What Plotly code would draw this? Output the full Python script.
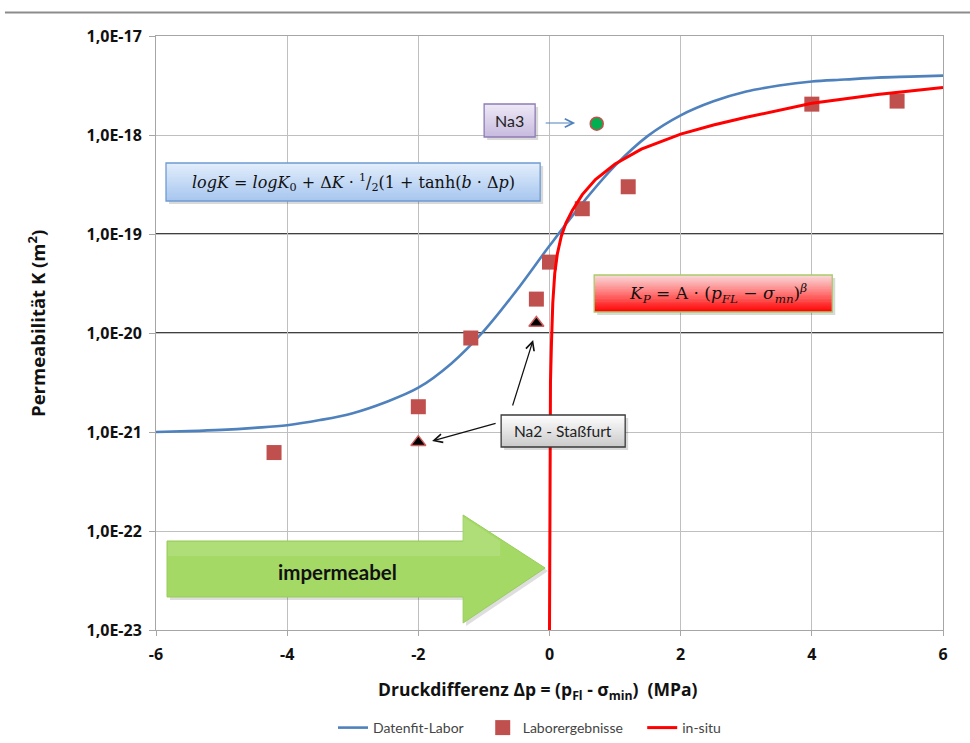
import plotly.graph_objects as go
import numpy as np

# ---------------- data ----------------
tick_vals = [1e-23, 1e-22, 1e-21, 1e-20, 1e-19, 1e-18, 1e-17]
tick_text = ["1,0E-23", "1,0E-22", "1,0E-21", "1,0E-20", "1,0E-19", "1,0E-18", "1,0E-17"]
x_ticks = [-6, -4, -2, 0, 2, 4, 6]

fit_x = [-6, -5.5, -5, -4.5, -4, -3.5, -3, -2.5, -2, -1.5, -1, -0.5, 0, 0.5, 1, 1.5,
         2, 2.5, 3, 3.5, 4, 4.5, 5, 5.5, 6]
fit_K = [1.0e-21, 1.02e-21, 1.05e-21, 1.10e-21, 1.17e-21, 1.32e-21, 1.55e-21, 2.0e-21,
         2.8e-21, 4.9e-21, 1.05e-20, 2.7e-20, 7.6e-20, 2.04e-19, 4.9e-19, 9.8e-19,
         1.58e-18, 2.19e-18, 2.75e-18, 3.16e-18, 3.47e-18, 3.63e-18, 3.80e-18, 3.89e-18,
         3.98e-18]

insitu_x = [0, 0.003, 0.008, 0.015, 0.03, 0.05, 0.08, 0.12, 0.18, 0.25, 0.35, 0.5, 0.7,
            1.0, 1.4, 2.0, 2.5, 3.0, 4.0, 5.0, 6.0]
insitu_K = [1e-23, 1e-22, 1e-21, 3.2e-21, 7.9e-21, 2.0e-20, 4.0e-20, 6.3e-20, 9.5e-20,
            1.29e-19, 1.74e-19, 2.5e-19, 3.55e-19, 5.1e-19, 7.2e-19, 1.02e-18, 1.26e-18,
            1.51e-18, 2.09e-18, 2.57e-18, 3.02e-18]

lab_x = [-4.2, -2.0, -1.2, -0.2, 0.0, 0.5, 1.2, 4.0, 5.3]
lab_K = [6.2e-22, 1.8e-21, 8.9e-21, 2.2e-20, 5.2e-20, 1.8e-19, 3.0e-19, 2.05e-18, 2.2e-18]

na2_x = [-2.0, -0.2]
na2_K = [7.9e-22, 1.26e-20]

na3_x = [0.72]
na3_K = [1.3e-18]

# ---------------- layout geometry (pixels) ----------------
W, H = 970, 743
L, R, T, B = 156, 942.7, 36, 630
NB = "\u00a0"


def px(x):
    return (x - L) / (R - L)


def py(y):
    return (B - y) / (B - T)


def mix(c1, c2, t):
    a = [int(c1[i:i + 2], 16) for i in (1, 3, 5)]
    b = [int(c2[i:i + 2], 16) for i in (1, 3, 5)]
    return "rgb(%d,%d,%d)" % tuple(round(a[k] + (b[k] - a[k]) * t) for k in range(3))


shapes = []


def grad_box(x0, y0, x1, y1, stops, border, n=24):
    shapes.append(dict(type="rect", xref="paper", yref="paper", x0=px(x0 + 3), x1=px(x1 + 3),
                       y0=py(y0 + 3), y1=py(y1 + 3), fillcolor="rgba(0,0,0,0.15)",
                       line=dict(width=0), layer="above"))
    for i in range(n):
        t = (i + 0.5) / n
        col = stops[-1][1]
        for j in range(len(stops) - 1):
            if stops[j][0] <= t <= stops[j + 1][0]:
                tt = (t - stops[j][0]) / (stops[j + 1][0] - stops[j][0])
                col = mix(stops[j][1], stops[j + 1][1], tt)
                break
        ya = y0 + (y1 - y0) * i / n
        yb = y0 + (y1 - y0) * (i + 1) / n + 0.6
        shapes.append(dict(type="rect", xref="paper", yref="paper", x0=px(x0), x1=px(x1),
                           y0=py(min(yb, y1)), y1=py(ya), fillcolor=col, line=dict(width=0),
                           layer="above"))
    shapes.append(dict(type="rect", xref="paper", yref="paper", x0=px(x0), x1=px(x1),
                       y0=py(y1), y1=py(y0), fillcolor="rgba(0,0,0,0)",
                       line=dict(color=border, width=1.3), layer="above"))


fig = go.Figure()

# black grid lines at 1e-19 and 1e-20
for v in [1e-19, 1e-20]:
    shapes.append(dict(type="line", xref="paper", yref="y", x0=0, x1=1, y0=v, y1=v,
                       line=dict(color="#000000", width=1.3), layer="between"))

fig.add_trace(go.Scatter(x=fit_x, y=fit_K, mode="lines", name="Datenfit-Labor" + NB * 4,
                         line=dict(color="#4F81BD", width=2.6, shape="spline")))
fig.add_trace(go.Scatter(x=lab_x, y=lab_K, mode="markers", name="Laborergebnisse" + NB * 4,
                         marker=dict(symbol="square", size=15, color="#C0504D",
                                     line=dict(width=0))))
fig.add_trace(go.Scatter(x=insitu_x, y=insitu_K, mode="lines", name="in-situ",
                         line=dict(color="#FF0000", width=3, shape="linear")))
fig.add_trace(go.Scatter(x=na2_x, y=na2_K, mode="markers", showlegend=False,
                         marker=dict(symbol="triangle-up", size=13, color="#000000",
                                     line=dict(color="#D06060", width=1.5))))
fig.add_trace(go.Scatter(x=na3_x, y=na3_K, mode="markers", showlegend=False,
                         marker=dict(symbol="circle", size=13, color="#00B050",
                                     line=dict(color="#C0504D", width=1.5))))

# equation / label boxes
grad_box(166, 163, 540, 201, [(0, "#e3eefc"), (1, "#a6c6ef")], "#6f9bd1")
grad_box(594, 275, 832, 312, [(0, "#f9dada"), (0.45, "#ff8080"), (1, "#ff0000")], "#a9cc6a")
grad_box(484, 104, 535, 137, [(0, "#eee9f6"), (1, "#c7badf")], "#8f7bb5")
grad_box(501, 415, 625, 447, [(0, "#ffffff"), (1, "#c9c9c9")], "#3a3a3a")

# green arrow "impermeabel"
arrow_pts = [(167, 541), (463, 541), (463, 515), (545, 568), (463, 623), (463, 597), (167, 597)]
path = "M " + " L ".join("%f,%f" % (px(a + 3), py(b + 3)) for a, b in arrow_pts) + " Z"
shapes.append(dict(type="path", xref="paper", yref="paper", path=path,
                   fillcolor="rgba(0,0,0,0.13)", line=dict(width=0), layer="above"))
path = "M " + " L ".join("%f,%f" % (px(a), py(b)) for a, b in arrow_pts) + " Z"
shapes.append(dict(type="path", xref="paper", yref="paper", path=path,
                   fillcolor="#A4D966", line=dict(color="#98cd5c", width=1), layer="above"))
path = "M " + " L ".join("%f,%f" % (px(a), py(b)) for a, b in
                         [(168, 542), (463, 542), (463, 517), (500, 541), (500, 556), (168, 556)]) + " Z"
shapes.append(dict(type="path", xref="paper", yref="paper", path=path,
                   fillcolor="rgba(255,255,255,0.12)", line=dict(width=0), layer="above"))

# top separator line
shapes.append(dict(type="line", xref="paper", yref="paper", x0=px(5), x1=px(970),
                   y0=py(12.5), y1=py(12.5), line=dict(color="#8c8c8c", width=2), layer="above"))

serif = "DejaVu Serif"
sans = "Open Sans"


def ann(x, y, text, **kw):
    d = dict(x=px(x), y=py(y), xref="paper", yref="paper", showarrow=False, text=text,
             xanchor="center", yanchor="middle")
    d.update(kw)
    return d


def arrow(x, y, ax, ay, color):
    return dict(x=px(x), y=py(y), xref="paper", yref="paper", ax=ax, ay=ay, text="",
                showarrow=True, arrowhead=5, arrowsize=1.4, arrowwidth=1.2, arrowcolor=color,
                xanchor="center", yanchor="middle")


annotations = [
    ann(353, 182, "<i>logK</i> = <i>logK</i><sub>0</sub> + Δ<i>K</i> · <sup>1</sup>/<sub>2</sub>(1 + tanh(<i>b</i> · Δ<i>p</i>)",
        font=dict(family=serif, size=16, color="#111111")),
    ann(718, 293.5, "<i>K<sub>P</sub></i> = A · (<i>p<sub>FL</sub></i> − <i>σ<sub>mn</sub></i>)<sup><i>β</i></sup>",
        font=dict(family=serif, size=17, color="#111111")),
    ann(509.5, 120.5, "Na3", font=dict(family="Lato", size=16, color="#222222")),
    ann(563, 431, "Na2 - Staßfurt", font=dict(family="Lato", size=15.5, color="#222222")),
    ann(337, 572, "<b>impermeabel</b>", font=dict(family="Lato", size=20.5, color="#111111")),
    arrow(575, 123, -31, 0, "#4F81BD"),
    arrow(533, 340, -21, 67, "#111111"),
    arrow(432, 441, 65, -18, "#111111"),
    ann(36, 323, "<b>Permeabilität K (m<sup>2</sup>)</b>", textangle=-90,
        font=dict(family=sans, size=18.5, color="#111111")),
    ann(538, 690, "<b>Druckdifferenz Δp = (p<sub>Fl</sub> - σ<sub>min</sub>)  (MPa)</b>",
        font=dict(family=sans, size=17.5, color="#111111")),
]

fig.update_layout(
    width=W, height=H,
    margin=dict(l=L, r=W - R, t=T, b=H - B, pad=0, autoexpand=False),
    paper_bgcolor="white", plot_bgcolor="white",
    shapes=shapes, annotations=annotations,
    legend=dict(orientation="h", xref="container", yref="container",
                x=333 / W, y=(H - 728) / H, xanchor="left", yanchor="middle",
                font=dict(family="Lato", size=14, color="#444444"), itemwidth=30,
                bgcolor="rgba(0,0,0,0)"),
    xaxis=dict(range=[-6, 6], tickvals=x_ticks, ticktext=[str(v) for v in x_ticks],
               showgrid=True, gridcolor="#BFBFBF", gridwidth=1, zeroline=False,
               showline=True, linecolor="#A6A6A6", linewidth=1, mirror=True,
               ticks="outside", ticklen=5, tickcolor="#A6A6A6", automargin=False,
               ticklabelstandoff=5,
               tickfont=dict(family=sans, size=16, color="#111111", weight="bold")),
    yaxis=dict(type="log", range=[-23, -17], tickvals=tick_vals, ticktext=tick_text,
               showgrid=True, gridcolor="#BFBFBF", gridwidth=1, zeroline=False,
               showline=True, linecolor="#A6A6A6", linewidth=1, mirror=True,
               ticks="outside", ticklen=6, tickcolor="#A6A6A6", ticklabelstandoff=4,
               automargin=False,
               tickfont=dict(family=sans, size=16, color="#111111", weight="bold")),
)

fig.write_html("out.html")
